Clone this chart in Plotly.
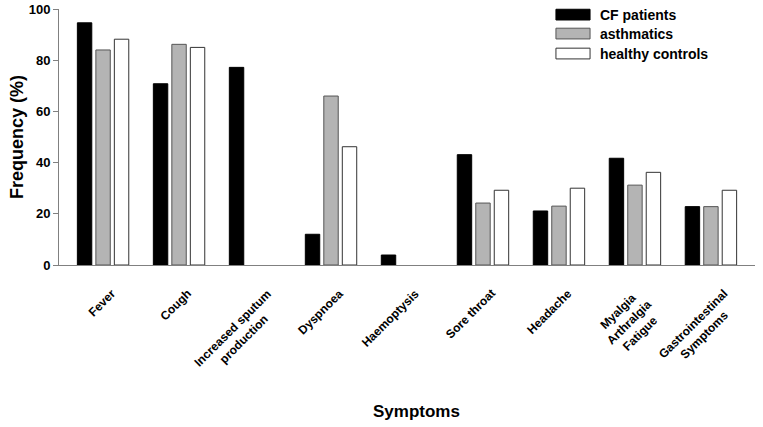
import plotly.graph_objects as go

categories = ["Fever", "Cough", "Increased sputum<br>production", "Dyspnoea", "Haemoptysis",
              "Sore throat", "Headache", "Myalgia<br>Arthralgia<br>Fatigue",
              "Gastrointestinal<br>Symptoms"]
cf_patients = [94.6, 70.8, 77.2, 12.0, 3.9, 43.1, 21.1, 41.7, 22.8]
asthmatics = [84.0, 86.2, None, 66.0, None, 24.2, 23.0, 31.2, 22.8]
healthy_controls = [88.2, 85.0, None, 46.2, None, 29.2, 30.0, 36.2, 29.2]
series_names = ["CF patients", "asthmatics", "healthy controls"]
y_ticks = [0, 20, 40, 60, 80, 100]

fills = ["#000000", "#b4b4b4", "#ffffff"]
outlines = ["#000000", "#555555", "#333333"]

x = list(range(len(categories)))
FONT = "Liberation Sans, Arial, sans-serif"

fig = go.Figure()
for name, vals, fc, lc in zip(series_names, [cf_patients, asthmatics, healthy_controls], fills, outlines):
    fig.add_trace(go.Bar(x=x, y=vals, name=name, showlegend=False,
                         marker=dict(color=fc, line=dict(color=lc, width=1))))

shapes = []
annotations = []
# legend: wide swatches + bold text
row_y = [0.978, 0.904, 0.826]
for name, fc, lc, yc in zip(series_names, fills, outlines, row_y):
    shapes.append(dict(type="rect", xref="paper", yref="paper", x0=0.714, x1=0.763,
                       y0=yc - 0.021, y1=yc + 0.021, fillcolor=fc, line=dict(color=lc, width=1)))
    annotations.append(dict(xref="paper", yref="paper", x=0.7744, y=yc, xanchor="left",
                            yanchor="middle", showarrow=False, text=f"<b>{name}</b>",
                            font=dict(size=14, family=FONT, color="#000000")))

# category labels, rotated, centre-aligned lines
for xi, cat in zip(x, categories):
    multi = "<br>" in cat
    annotations.append(dict(xref="x", yref="paper", x=xi, y=0, xanchor="right", yanchor="top",
                            xshift=33 if multi else 18, yshift=-19, textangle=-45, align="center",
                            showarrow=False, text=f"<b>{cat}</b>",
                            font=dict(size=12, family=FONT, color="#000000")))

# x axis title
annotations.append(dict(xref="paper", yref="paper", x=0.513, y=-0.574, xanchor="center",
                        yanchor="middle", showarrow=False, text="<b>Symptoms</b>",
                        font=dict(size=17, family=FONT, color="#000000")))

fig.update_layout(
    width=763, height=427,
    margin=dict(l=59, r=8, t=9, b=162),
    paper_bgcolor="white", plot_bgcolor="white",
    barmode="group", bargap=0.27, bargroupgap=0.22,
    font=dict(family=FONT, color="#000000"),
    showlegend=False,
    shapes=shapes, annotations=annotations,
    xaxis=dict(tickmode="array", tickvals=x, showticklabels=False,
               range=[-0.58, 8.58], showline=True, linecolor="#808080",
               linewidth=1, ticks="", showgrid=False, zeroline=False,
               automargin=False),
    yaxis=dict(range=[0, 100], tickvals=y_ticks, ticktext=[f"<b>{v}</b>" for v in y_ticks],
               showline=True, linecolor="#808080", linewidth=1, ticks="outside",
               ticklen=5, tickcolor="#808080", showgrid=False, zeroline=False,
               tickfont=dict(size=13, family=FONT),
               title=dict(text="<b>Frequency (%)</b>", font=dict(size=18, family=FONT), standoff=0),
               automargin=False),
)

fig.write_html("out.html", config={"displayModeBar": False},
               post_script="document.body.style.margin='0';")
